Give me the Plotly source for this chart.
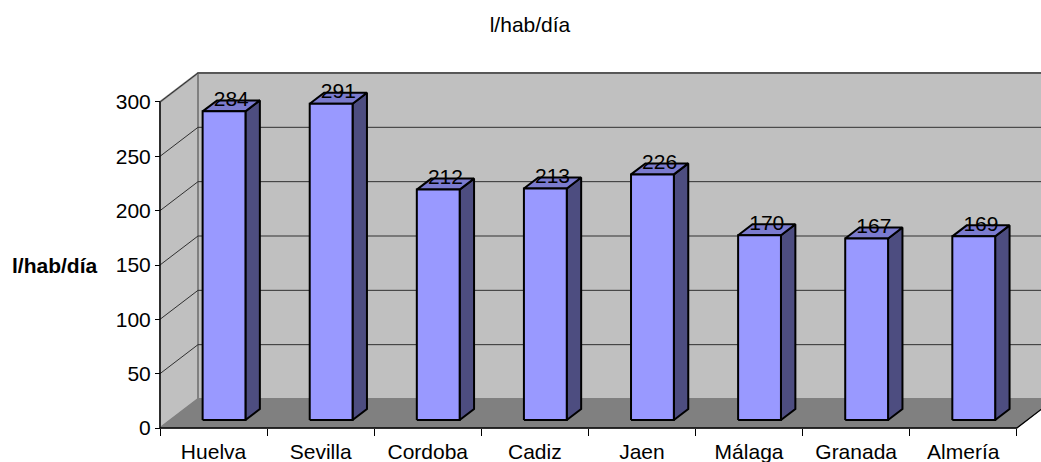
import plotly.graph_objects as go

# ---------------- data ----------------
regions = ["Huelva", "Sevilla", "Cordoba", "Cadiz", "Jaen", "Málaga", "Granada", "Almería"]
values = [284, 291, 212, 213, 226, 170, 167, 169]
y_ticks = [0, 50, 100, 150, 200, 250, 300]
chart_title = "l/hab/día"
y_title = "l/hab/día"

# ---------------- geometry / style ----------------
FONT = "Liberation Sans, Arial, sans-serif"
FS = 21
W, H = 1041, 462
ML, MR, MT, MB = 150, 0, 70, 24          # plot area margins (px)
PAD_L, PAD_B = 10, 10                    # px between plot edge and front axes
PX_X = 107.1                             # px per category
PX_Y = 1.0867                            # px per value unit
DX = 38 / PX_X                           # depth offset in category units
DY = 29 / PX_Y                           # depth offset in value units
F1, F2 = 0.276, 0.655                    # bar front / back depth fractions
BW = 0.40                                # bar width (categories)
N = len(regions)
YMAX = y_ticks[-1]

plot_w = W - ML - MR
plot_h = H - MT - MB
x_range = [-PAD_L / PX_X, (plot_w - PAD_L) / PX_X]
y_range = [-PAD_B / PX_Y, (plot_h - PAD_B) / PX_Y]

WALL = "#c0c0c0"
FLOOR = "#808080"
EDGE = "#808080"
FRONT = "#9999ff"
SIDE = "#4d4d80"
TOP = "#7b7bcf"

fig = go.Figure()


def poly(xs, ys, fill, line_color, width, xaxis="x"):
    fig.add_trace(go.Scatter(x=xs, y=ys, mode="lines", fill="toself", fillcolor=fill,
                             line=dict(color=line_color, width=width), hoverinfo="skip",
                             showlegend=False, xaxis=xaxis))


# back wall
poly([DX, N + DX, N + DX, DX, DX], [DY, DY, YMAX + DY, YMAX + DY, DY], WALL, EDGE, 2)
# left side wall
poly([0, 0, DX, DX, 0], [0, YMAX, YMAX + DY, DY, 0], WALL, EDGE, 2)
# floor
poly([0, N, N + DX, DX, 0], [0, 0, DY, DY, 0], FLOOR, FLOOR, 1)

# gridlines (back wall + side wall)
gx, gy = [], []
for v in y_ticks[1:]:
    gx += [0, DX, N + DX, None]
    gy += [v, v + DY, v + DY, None]
fig.add_trace(go.Scatter(x=gx, y=gy, mode="lines", line=dict(color="#303030", width=1),
                         hoverinfo="skip", showlegend=False))

# front axis lines
fig.add_trace(go.Scatter(x=[0, 0, None, 0, N, N + DX], y=[YMAX, 0, None, 0, 0, DY], mode="lines",
                         line=dict(color="black", width=1.3), hoverinfo="skip", showlegend=False))

# bars
fx, fy, sx, sy, tx, ty = [], [], [], [], [], []
lx, ly = [], []
for i, v in enumerate(values):
    xl = i + 0.5 - BW / 2
    xr = i + 0.5 + BW / 2
    a1x, a1y = F1 * DX, F1 * DY
    a2x, a2y = F2 * DX, F2 * DY
    fx += [xl + a1x, xr + a1x, xr + a1x, xl + a1x, xl + a1x, None]
    fy += [a1y, a1y, v + a1y, v + a1y, a1y, None]
    sx += [xr + a1x, xr + a2x, xr + a2x, xr + a1x, xr + a1x, None]
    sy += [a1y, a2y, v + a2y, v + a1y, a1y, None]
    tx += [xl + a1x, xr + a1x, xr + a2x, xl + a2x, xl + a1x, None]
    ty += [v + a1y, v + a1y, v + a2y, v + a2y, v + a1y, None]
    lx.append(i + 0.5 + (a1x + a2x) / 2)
    ly.append(v + a2y)

poly(sx, sy, SIDE, "black", 2)
poly(tx, ty, TOP, "black", 2)
poly(fx, fy, FRONT, "black", 2)

fig.add_trace(go.Scatter(x=lx, y=ly, mode="text", text=[str(v) for v in values],
                         textposition="middle center", textfont=dict(size=FS, color="black", family=FONT),
                         cliponaxis=False, hoverinfo="skip", showlegend=False))

# dummy trace for category label axis
fig.add_trace(go.Scatter(x=[i + 0.5 for i in range(N)], y=[0] * N, mode="markers",
                         marker=dict(opacity=0), xaxis="x2", hoverinfo="skip", showlegend=False))

fig.update_layout(
    width=W, height=H,
    margin=dict(l=ML, r=MR, t=MT, b=MB, pad=0),
    paper_bgcolor="white", plot_bgcolor="white",
    font=dict(family=FONT, color="black"),
    title=dict(text=chart_title, x=530 / W, xref="container", xanchor="center",
               y=1 - 25 / H, yref="container", yanchor="middle",
               font=dict(size=FS, color="black", family=FONT)),
    xaxis=dict(range=x_range, tickmode="array", tickvals=list(range(N + 1)),
               ticktext=[""] * (N + 1), ticks="outside", ticklen=7, tickcolor="black",
               tickwidth=1.3, showgrid=False, zeroline=False, showline=False,
               anchor="free", position=PAD_B / plot_h, fixedrange=True),
    xaxis2=dict(range=x_range, overlaying="x", tickmode="array",
                tickvals=[i + 0.5 for i in range(N)], ticktext=regions, ticks="",
                tickfont=dict(size=FS, color="black", family=FONT), ticklabelstandoff=9,
                showgrid=False, zeroline=False, showline=False,
                anchor="free", position=PAD_B / plot_h, side="bottom"),
    yaxis=dict(range=y_range, tickmode="array", tickvals=y_ticks, ticks="outside",
               ticklen=5, tickcolor="black", tickwidth=1.3,
               tickfont=dict(size=FS, color="black", family=FONT),
               showgrid=False, zeroline=False, showline=False,
               anchor="free", position=PAD_L / plot_w),
    annotations=[dict(text="<b>" + y_title + "</b>", xref="paper", yref="paper",
                      x=(54.5 - ML) / plot_w, y=(H - MB - 265) / plot_h,
                      xanchor="center", yanchor="middle", showarrow=False,
                      font=dict(size=FS, color="black", family=FONT))],
)

fig.write_html("out.html", config={"displayModeBar": False},
               post_script="document.body.style.margin='0px';document.body.style.overflow='hidden';")
